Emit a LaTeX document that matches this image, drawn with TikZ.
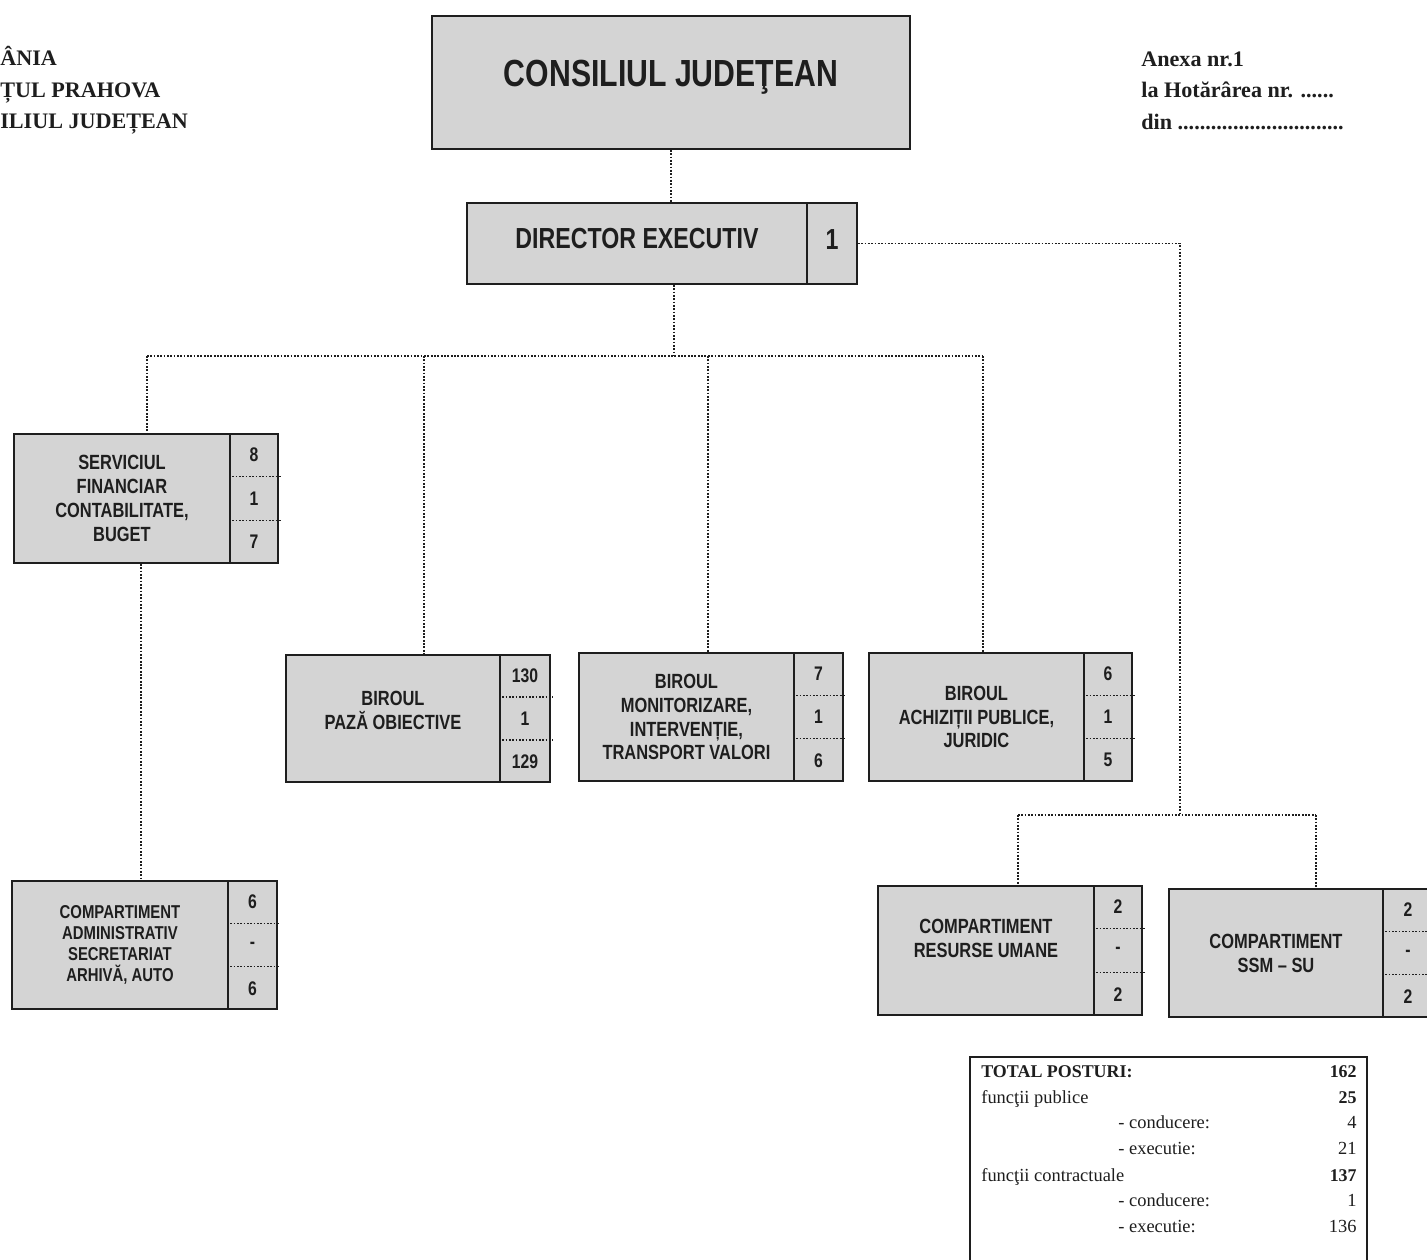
\documentclass[tikz,border=0pt]{standalone}
\usepackage{fontspec}
\usetikzlibrary{calc}
\newfontfamily\arn[FakeStretch=0.8]{Liberation Sans}
\newfontfamily\tnr{Liberation Serif}
\definecolor{boxgray}{RGB}{212,212,212}
\definecolor{ink}{RGB}{30,30,30}
\tikzset{
  frame/.style={draw=ink, line width=1.1pt, fill=boxgray, inner sep=0pt, anchor=north west,
    align=center, text=ink, font=\arn\bfseries\fontsize{11.7}{13.6}\selectfont},
  conn/.style={draw=ink, line width=0.9pt, dash pattern=on 1pt off 0.9pt},
  num/.style={font=\arn\bfseries\fontsize{11.2}{12}\selectfont, text=ink, inner sep=0pt},
  hdr/.style={font=\tnr\bfseries\fontsize{12.6}{14}\selectfont, anchor=base west, inner sep=0pt, text=ink},
  tbl/.style={font=\tnr\fontsize{10.5}{12}\selectfont, inner sep=0pt, text=ink},
  tblb/.style={font=\tnr\bfseries\fontsize{10.2}{12}\selectfont, inner sep=0pt, text=ink},
}
% #1 options, #2 name, #3 x, #4 y, #5 main width, #6 count width, #7 height, #8 text
\newcommand\unitbox[8][]{%
  \node[frame, minimum width=#5*0.02cm, minimum height=#7*0.02cm, #1] (#2) at (#3,#4) {#8};
  \node[frame, minimum width=#6*0.02cm, minimum height=#7*0.02cm] (#2c) at (#3+#5,#4) {};
}
\newcommand\counts[4]{%
  \draw[conn] ($(#1c.north west)!1/3!(#1c.south west)$) -- ($(#1c.north east)!1/3!(#1c.south east)$) -- ++(2,0);
  \draw[conn] ($(#1c.north west)!2/3!(#1c.south west)$) -- ($(#1c.north east)!2/3!(#1c.south east)$) -- ++(2,0);
  \node[num] (#1n1) at ($(#1c.north)!1/6!(#1c.south)$) {#2};
  \node[num] (#1n2) at ($(#1c.north)!1/2!(#1c.south)$) {#3};
  \node[num] (#1n3) at ($(#1c.north)!5/6!(#1c.south)$) {#4};
}
\begin{document}
\begin{tikzpicture}[x=0.02cm,y=-0.02cm]
\useasboundingbox (0,0) rectangle (1427,1259);

% headers
\node[hdr] (h1) at (0,65) {ÂNIA};
\node[hdr] (h2) at (0,97) {ȚUL PRAHOVA};
\node[hdr] (h3) at (0,128) {ILIUL JUDEȚEAN};
\node[hdr] (a1) at (1141,66) {Anexa nr.1};
\node[hdr] (a2) at (1141,97) {la Hotărârea nr. ......};
\node[hdr] (a3) at (1141,129) {din ..............................};

% top
\node[frame, minimum width=478*0.02cm, minimum height=133*0.02cm,
  font=\arn\bfseries\fontsize{21.5}{24}\selectfont] (cj) at (431,15) {CONSILIUL JUDEŢEAN\\[-14pt]\mbox{}};
\unitbox[font=\arn\bfseries\fontsize{16.5}{18}\selectfont]{de}{466}{202}{340}{50}{81}{DIRECTOR EXECUTIV\\[-12pt]\mbox{}}
\node[num, font=\arn\bfseries\fontsize{16.5}{18}\selectfont, yshift=2pt] (den) at (dec.center) {1};

% units
\unitbox{sf}{13}{433}{216}{48}{129}{SERVICIUL\\FINANCIAR\\CONTABILITATE,\\BUGET}
\counts{sf}{8}{1}{7}
\unitbox[font=\arn\bfseries\fontsize{10.6}{11.9}\selectfont]{cas}{11}{880}{216}{49}{128}{COMPARTIMENT\\ADMINISTRATIV\\SECRETARIAT\\ARHIVĂ, AUTO}
\counts{cas}{6}{-}{6}
\unitbox{bp}{285}{654}{214}{50}{127}{BIROUL\\PAZĂ OBIECTIVE\\[-4pt]\mbox{}}
\counts{bp}{130}{1}{129}
\unitbox{bm}{578}{652}{215}{49}{128}{BIROUL\\MONITORIZARE,\\INTERVENȚIE,\\TRANSPORT VALORI}
\counts{bm}{7}{1}{6}
\unitbox{ba}{868}{652}{215}{48}{128}{BIROUL\\ACHIZIȚII PUBLICE,\\JURIDIC}
\counts{ba}{6}{1}{5}
\unitbox{cru}{877}{885}{216}{48}{129}{COMPARTIMENT\\RESURSE UMANE\\\mbox{}}
\counts{cru}{2}{-}{2}
\unitbox{ssm}{1168}{888}{214}{50}{128}{COMPARTIMENT\\SSM – SU}
\counts{ssm}{2}{-}{2}

% connectors
\draw[conn] (cj.south) -- (cj.south |- de.north);
\coordinate (hub) at (674,356);
\draw[conn] (hub |- de.south) -- (hub);
\coordinate (busL) at (147,356);
\coordinate (busR) at (983,356);
\coordinate (d2) at (424,356);
\coordinate (d3) at (708,356);
\draw[conn] (busL) -- (busR);
\draw[conn] (busL) -- (busL |- sf.north);
\draw[conn] (d2) -- (d2 |- bp.north);
\draw[conn] (d3) -- (d3 |- bm.north);
\draw[conn] (busR) -- (busR |- ba.north);
\coordinate (v5) at (141,700);
\draw[conn] (v5 |- sf.south) -- (v5 |- cas.north);
\coordinate (rt) at (1180,815);
\draw[conn] (dec.east) -| (rt);
\coordinate (rl) at (1018,815);
\coordinate (rr) at (1316,815);
\draw[conn] (rl) -- (rr);
\draw[conn] (rl) -- (rl |- cru.north);
\draw[conn] (rr) -- (rr |- ssm.north);

% totals
\node[draw=ink, line width=1.1pt, fill=white, inner sep=0pt, anchor=north west,
  minimum width=397*0.02cm, minimum height=220*0.02cm] (tot) at (969,1056) {};
\node[tblb, anchor=base west] (t1) at (981,1077) {TOTAL POSTURI:};
\node[tblb, anchor=base east] (t1n) at (1357,1077) {162};
\node[tbl, anchor=base west] (t2) at (981,1103) {funcţii publice};
\node[tblb, anchor=base east] (t2n) at (1357,1103) {25};
\node[tbl, anchor=base west] (t3) at (1118,1128) {- conducere:};
\node[tbl, anchor=base east] (t3n) at (1357,1128) {4};
\node[tbl, anchor=base west] (t4) at (1118,1154) {- executie:};
\node[tbl, anchor=base east] (t4n) at (1357,1154) {21};
\node[tbl, anchor=base west] (t5) at (981,1181) {funcţii contractuale};
\node[tblb, anchor=base east] (t5n) at (1357,1181) {137};
\node[tbl, anchor=base west] (t6) at (1118,1206) {- conducere:};
\node[tbl, anchor=base east] (t6n) at (1357,1206) {1};
\node[tbl, anchor=base west] (t7) at (1118,1232) {- executie:};
\node[tbl, anchor=base east] (t7n) at (1357,1232) {136};
\end{tikzpicture}
\end{document}
